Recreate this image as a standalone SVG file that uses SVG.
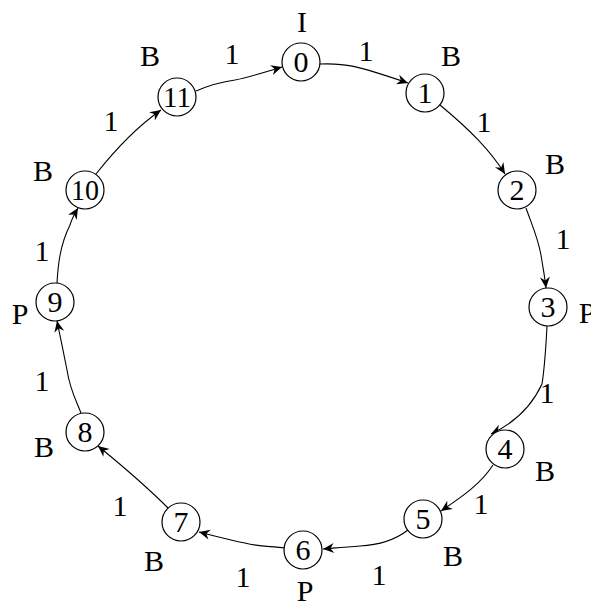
<svg xmlns="http://www.w3.org/2000/svg" width="591" height="607" viewBox="0 0 591 607">
<style>
.n circle{fill:#fff;stroke:#000;stroke-width:1.2}
text{fill:#000;text-anchor:middle}
.e path{fill:none;stroke:#000;stroke-width:1.1;marker-end:url(#a)}
</style>
<defs>
<marker id="a" markerUnits="userSpaceOnUse" markerWidth="14" markerHeight="12" viewBox="-12 -6 14 12" refX="0" refY="0" orient="auto">
<path d="M0,0 L-11,-5 L-7.5,0 L-11,5 z" fill="#000"/>
</marker>
</defs>
<rect width="591" height="607" fill="#fff"/>
<g class="e" id="edges">
<path d="M320,64 C345,63 355,65 408,83"/>
<path d="M440,105 C470,130 490,150 505,174"/>
<path d="M526,208 C532,225 538,238 541,255 C543,268 545,278 546,288"/>
<path d="M547,326 C546,345 545,365 542,384 C530,410 510,425 491,434"/>
<path d="M493,465 C480,485 460,498 441,511"/>
<path d="M408,530 C395,540 380,545 360,546 C345,547 335,548 323,549"/>
<path d="M285,548 C270,546 260,547 245,543 C230,540 215,536 199,532"/>
<path d="M168,508 C150,490 125,468 98,446"/>
<path d="M81,413 C76,400 70,390 67,370 C64,355 60,335 57,321"/>
<path d="M57,283 C58,265 60,245 70,225 C72,218 75,213 78,208"/>
<path d="M96,174 C115,150 138,126 161,110"/>
<path d="M196,91 C210,85 220,82 235,80 C250,77 265,72 282,67"/>
</g>
<g font-family="Liberation Serif, DejaVu Serif, serif" font-size="30">
<g class="n" id="n0"><circle cx="301" cy="62" r="19"/><text x="301" y="72">0</text></g>
<g class="n" id="n1"><circle cx="425" cy="93" r="19"/><text x="425" y="103">1</text></g>
<g class="n" id="n2"><circle cx="517" cy="190" r="19"/><text x="517" y="200">2</text></g>
<g class="n" id="n3"><circle cx="548" cy="307" r="19"/><text x="548" y="317">3</text></g>
<g class="n" id="n4"><circle cx="505" cy="449" r="19"/><text x="505" y="459">4</text></g>
<g class="n" id="n5"><circle cx="423" cy="519" r="19"/><text x="423" y="529">5</text></g>
<g class="n" id="n6"><circle cx="303" cy="550" r="19"/><text x="303" y="560">6</text></g>
<g class="n" id="n7"><circle cx="181" cy="522" r="19"/><text x="181" y="532">7</text></g>
<g class="n" id="n8"><circle cx="85" cy="432" r="19"/><text x="85" y="442">8</text></g>
<g class="n" id="n9"><circle cx="55" cy="302" r="19"/><text x="55" y="312">9</text></g>
<g class="n" id="n10"><circle cx="85" cy="190" r="19"/><text x="85" y="200" textLength="28" lengthAdjust="spacingAndGlyphs">10</text></g>
<g class="n" id="n11"><circle cx="177" cy="97" r="19"/><text x="177" y="107" textLength="28" lengthAdjust="spacingAndGlyphs">11</text></g>
<g id="labels">
<text x="302" y="32">I</text>
<text x="451" y="66">B</text>
<text x="555" y="174">B</text>
<text x="587" y="323">P</text>
<text x="545" y="481">B</text>
<text x="453" y="566">B</text>
<text x="305" y="601">P</text>
<text x="154" y="571">B</text>
<text x="44" y="457">B</text>
<text x="20" y="324">P</text>
<text x="43" y="181">B</text>
<text x="150" y="66">B</text>
</g>
<g id="edge-labels">
<text x="366" y="61">1</text>
<text x="484" y="132">1</text>
<text x="563" y="249">1</text>
<text x="547" y="403">1</text>
<text x="481" y="514">1</text>
<text x="379" y="585">1</text>
<text x="243" y="587">1</text>
<text x="120" y="516">1</text>
<text x="42" y="391">1</text>
<text x="42" y="261">1</text>
<text x="111" y="131">1</text>
<text x="232" y="64">1</text>
</g>
</g>
</svg>
